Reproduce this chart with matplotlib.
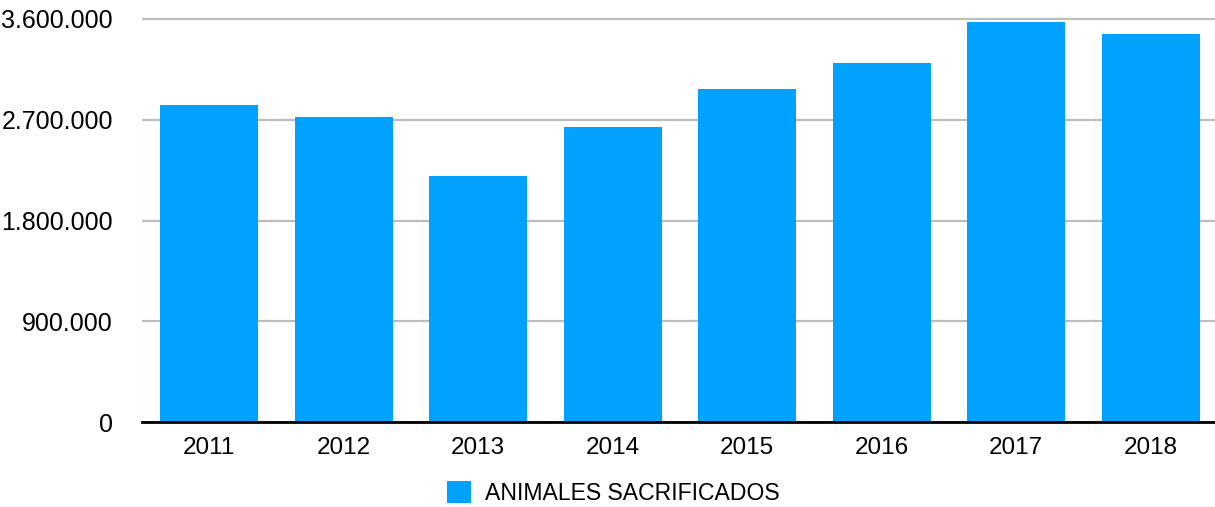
import matplotlib
matplotlib.use("Agg")
import matplotlib.pyplot as plt
from matplotlib.ticker import FuncFormatter, FixedLocator

# Data
years = ["2011", "2012", "2013", "2014", "2015", "2016", "2017", "2018"]
animales = [2832000, 2725000, 2198000, 2635000, 2975000, 3207000, 3573000, 3466000]
yticks = [0, 900000, 1800000, 2700000, 3600000]

plt.rcParams['font.family'] = ['Liberation Sans', 'DejaVu Sans']

W, H = 1215, 507
fig = plt.figure(figsize=(W / 100, H / 100), dpi=100)
top_px, zero_px = 19, 422
ymax = 3620000
px_per_unit = (zero_px - top_px) / 3600000
ax_top = zero_px - ymax * px_per_unit
ax = fig.add_axes([142 / W, 1 - zero_px / H, (1218 - 142) / W, (zero_px - ax_top) / H])

x = range(len(years))
ax.bar(x, animales, width=0.73, color="#00A2FF", label="ANIMALES SACRIFICADOS", zorder=3)

ax.set_xlim(-0.5, len(years) - 0.5)
ax.set_ylim(0, ymax)
ax.yaxis.set_major_locator(FixedLocator(yticks))
ax.yaxis.set_major_formatter(FuncFormatter(lambda v, p: f"{int(v):,}".replace(",", ".")))
ax.set_xticks(list(x))
ax.set_xticklabels(years)

ax.grid(axis="y", color="#bdbdbd", linewidth=1.6, zorder=0)
for s in ["top", "right", "left"]:
    ax.spines[s].set_visible(False)
ax.spines["bottom"].set_color("black")
ax.spines["bottom"].set_linewidth(2)
ax.spines["bottom"].set_zorder(4)

ax.tick_params(axis="y", length=0, pad=21, labelsize=18)
ax.tick_params(axis="x", length=0, pad=11, labelsize=17.5)

fig.legend(loc="center", bbox_to_anchor=(0.505, 1 - 493 / H), frameon=False,
           fontsize=16.6, handlelength=1.05, handleheight=1.05, handletextpad=0.6)

fig.savefig("out.png", dpi=100)
